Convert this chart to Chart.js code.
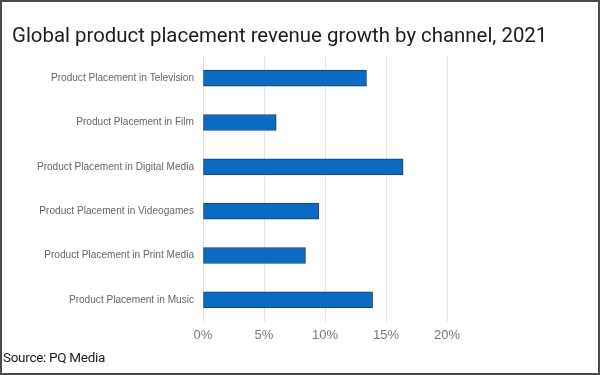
<!DOCTYPE html>
<html>
<head>
<meta charset="utf-8">
<script src="https://cdn.jsdelivr.net/npm/chart.js@4"></script>
<style>
  body { margin: 0; background: #fff; }
  #wrap { position: relative; width: 600px; height: 375px; overflow: hidden; }
  #frame { position: absolute; left: 0; top: 0; width: 600px; height: 375px; box-sizing: border-box;
           border: 2px solid #4a4a4a; pointer-events: none; }
  #title { position: absolute; left: 12px; top: 22px; font-family: Roboto, sans-serif; font-size: 20.4px;
           color: #1c1c1c; white-space: nowrap; line-height: 26px; }
  #source { position: absolute; left: 3px; top: 348px; font-family: Roboto, sans-serif; font-size: 13.5px;
            letter-spacing: -0.3px; color: #1c1c1c; line-height: 18px; }
  canvas { position: absolute; left: 0; top: 0; }
</style>
</head>
<body>
<div id="wrap">
  <canvas id="chart" width="600" height="375"></canvas>
  <div id="title">Global product placement revenue growth by channel, 2021</div>
  <div id="source">Source: PQ Media</div>
  <div id="frame"></div>
</div>
<script>
// canales y crecimiento (%)
const channels = [
    'Product Placement in Television',
    'Product Placement in Film',
    'Product Placement in Digital Media',
    'Product Placement in Videogames',
    'Product Placement in Print Media',
    'Product Placement in Music',
];
const growth = [13.4, 6.0, 16.4, 9.5, 8.4, 13.9];
const xTicks = [0, 5, 10, 15, 20];

const ctx = document.getElementById('chart').getContext('2d');
new Chart(ctx, {
    type: 'bar',
    data: {
        labels: channels,
        datasets: [
            {
                data: growth,
                backgroundColor: '#0b6bc3',
                borderColor: '#1b3d6b',
                borderWidth: 1,
                borderSkipped: false,
                barThickness: 16,
            },
        ],
    },
    options: {
        indexAxis: 'y',
        responsive: false,
        animation: false,
        layout: { padding: { top: 56, right: 153, bottom: 23, left: 0 } },
        plugins: {
            legend: { display: false },
            tooltip: { enabled: false },
        },
        scales: {
            x: {
                min: 0,
                max: 20,
                afterBuildTicks: (scale) => {
                    scale.ticks = xTicks.map((v) => ({ value: v }));
                },
                grid: { color: '#e4e4e4', drawTicks: false },
                border: { display: false },
                ticks: {
                    padding: 6,
                    color: '#7a7a7a',
                    font: { family: 'Liberation Sans', size: 13 },
                    callback: (v) => v + '%',
                },
                afterFit: (scale) => { scale.height = 30; },
            },
            y: {
                grid: { display: false },
                border: { display: false },
                ticks: {
                    padding: 1,
                    color: '#666',
                    font: { family: 'Liberation Sans', size: 10.1 },
                },
                afterFit: (scale) => { scale.width = 203; },
            },
        },
    },
});
</script>
</body>
</html>
